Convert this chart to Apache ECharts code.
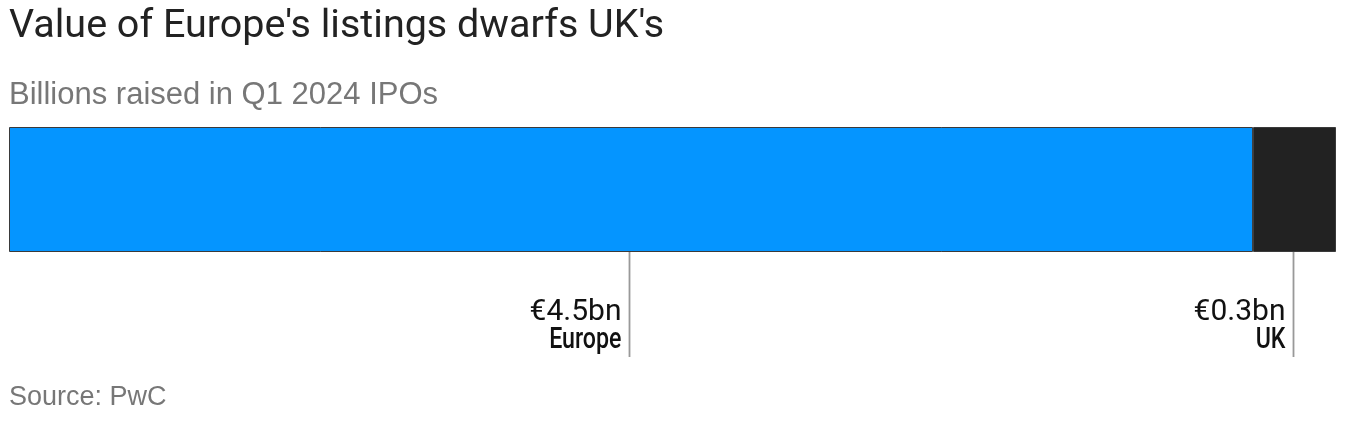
<!DOCTYPE html>
<html>
<head>
<meta charset="utf-8">
<script src="https://cdn.jsdelivr.net/npm/echarts@6/dist/echarts.min.js"></script>
<style>
  html, body { margin: 0; padding: 0; background: #fff; }
  #chart { width: 1352px; height: 426px; }
</style>
</head>
<body>
<div id="chart"></div>
<script>
// IPO proceeds, Q1 2024, in billions of euros
const regions = ['Europe', 'UK'];
const raised = [4.5, 0.3];
const valueLabels = ['€4.5bn', '€0.3bn'];
const colors = ['#0595ff', '#222222'];

const chart = echarts.init(document.getElementById('chart'), null, { renderer: 'canvas' });

const total = raised.reduce((a, b) => a + b, 0);

const series = regions.map((name, i) => ({
  name: name,
  type: 'bar',
  stack: 'total',
  barWidth: '100%',
  data: [raised[i]],
  itemStyle: { color: colors[i], borderColor: '#3a3a3a', borderWidth: 1 },
  emphasis: { disabled: true }
}));

chart.setOption({
  animation: false,
  title: [
    {
      text: "Value of Europe's listings dwarfs UK's",
      left: 9, top: 7, padding: 0,
      textStyle: { fontFamily: 'Roboto', fontSize: 39.5, fontWeight: 'normal', color: '#222' }
    },
    {
      text: 'Billions raised in Q1 2024 IPOs',
      left: 9, top: 80, padding: 0,
      textStyle: { fontFamily: '"Liberation Sans", Arial, sans-serif', fontSize: 31, fontWeight: 'normal', color: '#777' }
    },
    {
      text: 'Source: PwC',
      left: 9, top: 384, padding: 0,
      textStyle: { fontFamily: '"Liberation Sans", Arial, sans-serif', fontSize: 27, fontWeight: 'normal', color: '#777' }
    }
  ],
  grid: { left: 9, right: 16, top: 127, height: 125 },
  xAxis: { type: 'value', min: 0, max: total, show: false },
  yAxis: { type: 'category', data: ['Q1 2024'], show: false },
  series: series
});

// Leader lines and labels under the middle of each segment
const graphics = [];
let start = 0;
regions.forEach((name, i) => {
  const mid = start + raised[i] / 2;
  start += raised[i];
  const p = chart.convertToPixel({ gridIndex: 0 }, [mid, 0]);
  const x = Math.round(p[0]) - 1.5;
  graphics.push({
    type: 'line',
    shape: { x1: x, y1: 252, x2: x, y2: 357 },
    style: { stroke: '#999', lineWidth: 1.8 }
  });
  graphics.push({
    type: 'text',
    style: {
      x: x - 8, y: 297, text: valueLabels[i],
      align: 'right', verticalAlign: 'top',
      fontFamily: 'Roboto', fontSize: 30, fill: '#111'
    }
  });
  // region name in a narrowed medium face
  graphics.push({
    type: 'text',
    x: x - 8, y: 326,
    scaleX: 0.8,
    style: {
      x: 0, y: 0, text: name,
      align: 'right', verticalAlign: 'top',
      fontFamily: 'Roboto', fontWeight: 500, fontSize: 29, fill: '#111'
    }
  });
});
chart.setOption({ graphic: graphics });
</script>
</body>
</html>
